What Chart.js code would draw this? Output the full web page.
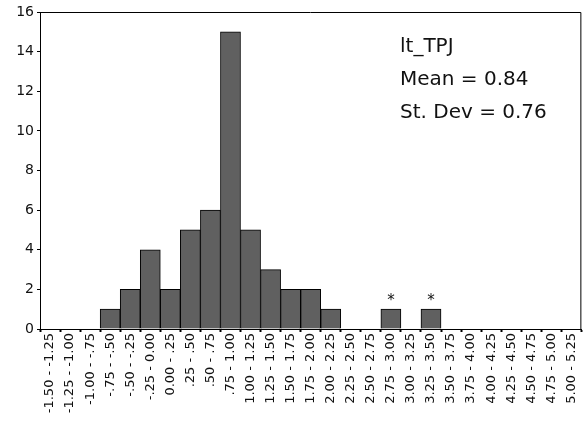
<!DOCTYPE html>
<html>
<head>
<meta charset="utf-8">
<script src="https://cdn.jsdelivr.net/npm/chart.js@4"></script>
<style>
  html, body { margin: 0; padding: 0; background: #fff; }
  #wrap { width: 588px; height: 429px; }
</style>
</head>
<body>
<div id="wrap"><canvas id="chart"></canvas></div>
<script>
// интервалы гистограммы
const bins = ['-1.50 - -1.25', '-1.25 - -1.00', '-1.00 - -.75', '-.75 - -.50', '-.50 - -.25',
    '-.25 - 0.00', '0.00 - .25', '.25 - .50', '.50 - .75', '.75 - 1.00', '1.00 - 1.25',
    '1.25 - 1.50', '1.50 - 1.75', '1.75 - 2.00', '2.00 - 2.25', '2.25 - 2.50', '2.50 - 2.75',
    '2.75 - 3.00', '3.00 - 3.25', '3.25 - 3.50', '3.50 - 3.75', '3.75 - 4.00', '4.00 - 4.25',
    '4.25 - 4.50', '4.50 - 4.75', '4.75 - 5.00', '5.00 - 5.25'];
const counts = [0, 0, 0, 1, 2, 4, 2, 5, 6, 15, 5, 3, 2, 2, 1, 0, 0, 1, 0, 1, 0, 0, 0, 0, 0, 0, 0];
// выбросы, помеченные звёздочкой
const outlierBins = ['2.75 - 3.00', '3.25 - 3.50'];
const statsLines = ['lt_TPJ', 'Mean = 0.84', 'St. Dev = 0.76'];

const FONT = '"DejaVu Sans", sans-serif';

// рамка, звёздочки и подпись со статистикой
const extras = {
    id: 'extras',
    afterDraw(chart) {
        const { ctx, chartArea: a, scales } = chart;
        ctx.save();
        ctx.strokeStyle = '#000';
        ctx.lineWidth = 1;
        ctx.beginPath();
        ctx.moveTo(a.left, a.top + 0.5);
        ctx.lineTo(a.right - 0.5, a.top + 0.5);
        ctx.lineTo(a.right - 0.5, a.bottom);
        ctx.stroke();

        ctx.fillStyle = '#111';
        ctx.font = '15px ' + FONT;
        ctx.textAlign = 'center';
        ctx.textBaseline = 'alphabetic';
        outlierBins.forEach(b => {
            const i = bins.indexOf(b);
            const x = scales.x.getPixelForValue(i);
            const y = scales.y.getPixelForValue(counts[i]);
            ctx.fillText('*', x, y - 4);
        });

        ctx.font = '20px ' + FONT;
        ctx.textAlign = 'left';
        statsLines.forEach((t, k) => ctx.fillText(t, 400, 52 + k * 33));
        ctx.restore();
    }
};

new Chart(document.getElementById('chart'), {
    type: 'bar',
    data: {
        labels: bins,
        datasets: [{
            data: counts,
            backgroundColor: '#606060',
            borderColor: '#000',
            borderWidth: 1,
            categoryPercentage: 1,
            barPercentage: 1
        }]
    },
    options: {
        responsive: true,
        maintainAspectRatio: false,
        animation: false,
        layout: { padding: { top: 12, right: 3, left: 0, bottom: 0 } },
        plugins: {
            legend: { display: false },
            tooltip: { enabled: false }
        },
        scales: {
            x: {
                grid: { drawOnChartArea: false, tickLength: 3, tickWidth: 2, color: '#000' },
                border: { color: '#000', width: 1 },
                ticks: {
                    autoSkip: false, minRotation: 90, maxRotation: 90, padding: 1,
                    color: '#111', font: { family: FONT, size: 13 }
                },
                afterFit(s) { s.height = 100; }
            },
            y: {
                min: 0, max: 16,
                grid: { drawOnChartArea: false, tickLength: 3, color: '#000' },
                border: { color: '#000', width: 1 },
                ticks: {
                    stepSize: 2, padding: 3,
                    color: '#111', font: { family: FONT, size: 14 }
                },
                afterFit(s) { s.width = 40; }
            }
        }
    },
    plugins: [extras]
});
</script>
</body>
</html>
